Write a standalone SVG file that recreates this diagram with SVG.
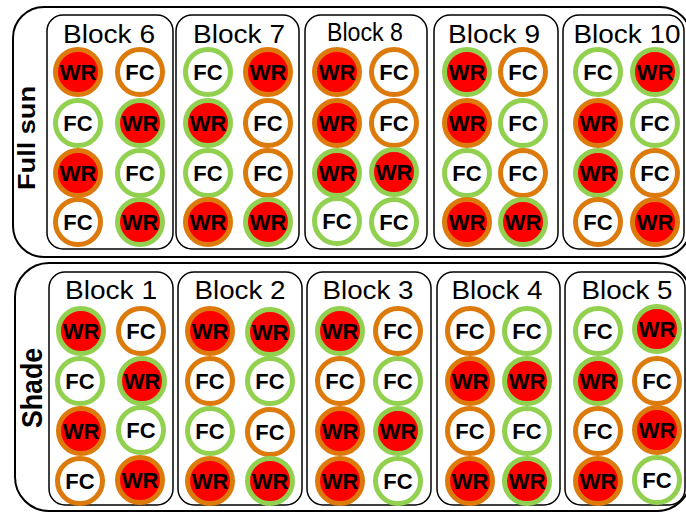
<svg xmlns="http://www.w3.org/2000/svg" width="686" height="512" viewBox="0 0 686 512">
  <style>
    .outer { fill: #ffffff; stroke: #000000; stroke-width: 2; }
    .block { fill: #ffffff; stroke: #000000; stroke-width: 1.5; }
    .title { font-family: "Liberation Sans", Arial, sans-serif; font-size: 25px; fill: #000000; text-anchor: middle; }
    .side { font-family: "Liberation Sans", Arial, sans-serif; font-weight: bold; fill: #000000; text-anchor: middle; }
    .wr { fill: #ff0000; }
    .fc { fill: #ffffff; }
    .o { stroke: #dc7a0c; stroke-width: 5; }
    .g { stroke: #92d050; stroke-width: 5; }
    .t { font-family: "Liberation Sans", Arial, sans-serif; font-weight: bold; font-size: 22px; fill: #000000; text-anchor: middle; }
  </style>

  <rect width="686" height="512" fill="#ffffff"/>

  <!-- treatment panels -->
  <g id="panel-full-sun">
    <rect class="outer" x="13" y="7" width="678" height="250" rx="31" ry="31"/>
    <text class="side" font-size="24" textLength="104" lengthAdjust="spacingAndGlyphs" transform="translate(35,138) rotate(-90)">Full sun</text>
  </g>
  <g id="panel-shade">
    <rect class="outer" x="15" y="263" width="676" height="248" rx="34" ry="34"/>
    <text class="side" font-size="29" textLength="80" lengthAdjust="spacingAndGlyphs" transform="translate(42,388) rotate(-90)">Shade</text>
  </g>

  <g id="connectors"/>

  <!-- Full sun blocks -->
  <g id="block-6">
    <rect class="block" x="47" y="15" width="126" height="234" rx="16"/>
    <text class="title" x="109" y="42.5" textLength="92" lengthAdjust="spacingAndGlyphs">Block 6</text>
    <circle class="wr o" cx="78" cy="72" r="22.5"/><text class="t" x="78" y="80">WR</text>
    <circle class="fc o" cx="140" cy="72" r="22.5"/><text class="t" x="140" y="80">FC</text>
    <circle class="fc g" cx="78" cy="123" r="22.5"/><text class="t" x="78" y="131">FC</text>
    <circle class="wr g" cx="140" cy="123" r="22.5"/><text class="t" x="140" y="131">WR</text>
    <circle class="wr o" cx="78" cy="173" r="22.5"/><text class="t" x="78" y="181">WR</text>
    <circle class="fc g" cx="140" cy="173" r="22.5"/><text class="t" x="140" y="181">FC</text>
    <circle class="fc o" cx="78" cy="222" r="22.5"/><text class="t" x="78" y="230">FC</text>
    <circle class="wr g" cx="140" cy="222" r="22.5"/><text class="t" x="140" y="230">WR</text>
  </g>
  <g id="block-7">
    <rect class="block" x="176" y="15" width="123" height="234" rx="16"/>
    <text class="title" x="239" y="42.5" textLength="92" lengthAdjust="spacingAndGlyphs">Block 7</text>
    <circle class="fc g" cx="208" cy="72" r="22.5"/><text class="t" x="208" y="80">FC</text>
    <circle class="wr o" cx="268" cy="72" r="22.5"/><text class="t" x="268" y="80">WR</text>
    <circle class="wr g" cx="208" cy="123" r="22.5"/><text class="t" x="208" y="131">WR</text>
    <circle class="fc o" cx="268" cy="123" r="22.5"/><text class="t" x="268" y="131">FC</text>
    <circle class="fc g" cx="208" cy="173" r="22.5"/><text class="t" x="208" y="181">FC</text>
    <circle class="fc o" cx="268" cy="173" r="22.5"/><text class="t" x="268" y="181">FC</text>
    <circle class="wr o" cx="208" cy="222" r="22.5"/><text class="t" x="208" y="230">WR</text>
    <circle class="wr g" cx="268" cy="222" r="22.5"/><text class="t" x="268" y="230">WR</text>
  </g>
  <g id="block-8">
    <rect class="block" x="305" y="15" width="122" height="234" rx="16"/>
    <text class="title" x="365" y="40.5" font-size="20.5" textLength="76" lengthAdjust="spacingAndGlyphs">Block 8</text>
    <circle class="wr o" cx="337" cy="72" r="22.5"/><text class="t" x="337" y="80">WR</text>
    <circle class="fc o" cx="394" cy="72" r="22.5"/><text class="t" x="394" y="80">FC</text>
    <circle class="wr o" cx="337" cy="123" r="22.5"/><text class="t" x="337" y="131">WR</text>
    <circle class="fc o" cx="394" cy="123" r="22.5"/><text class="t" x="394" y="131">FC</text>
    <circle class="wr g" cx="337" cy="173" r="22.5"/><text class="t" x="337" y="181">WR</text>
    <circle class="wr g" cx="394" cy="172" r="22.5"/><text class="t" x="394" y="180">WR</text>
    <circle class="fc g" cx="337" cy="221" r="22.5"/><text class="t" x="337" y="229">FC</text>
    <circle class="fc g" cx="394" cy="222" r="22.5"/><text class="t" x="394" y="230">FC</text>
  </g>
  <g id="block-9">
    <rect class="block" x="434" y="15" width="124" height="234" rx="16"/>
    <text class="title" x="494" y="42.5" textLength="92" lengthAdjust="spacingAndGlyphs">Block 9</text>
    <circle class="wr g" cx="467" cy="72" r="22.5"/><text class="t" x="467" y="80">WR</text>
    <circle class="fc o" cx="523" cy="72" r="22.5"/><text class="t" x="523" y="80">FC</text>
    <circle class="wr o" cx="467" cy="123" r="22.5"/><text class="t" x="467" y="131">WR</text>
    <circle class="fc g" cx="523" cy="123" r="22.5"/><text class="t" x="523" y="131">FC</text>
    <circle class="fc g" cx="467" cy="173" r="22.5"/><text class="t" x="467" y="181">FC</text>
    <circle class="fc o" cx="523" cy="173" r="22.5"/><text class="t" x="523" y="181">FC</text>
    <circle class="wr o" cx="467" cy="222" r="22.5"/><text class="t" x="467" y="230">WR</text>
    <circle class="wr g" cx="523" cy="222" r="22.5"/><text class="t" x="523" y="230">WR</text>
  </g>
  <g id="block-10">
    <rect class="block" x="563" y="15" width="121" height="234" rx="16"/>
    <text class="title" x="627" y="42.5" textLength="107" lengthAdjust="spacingAndGlyphs">Block 10</text>
    <circle class="fc g" cx="598" cy="72" r="22.5"/><text class="t" x="598" y="80">FC</text>
    <circle class="wr g" cx="655" cy="72" r="22.5"/><text class="t" x="655" y="80">WR</text>
    <circle class="wr o" cx="598" cy="123" r="22.5"/><text class="t" x="598" y="131">WR</text>
    <circle class="fc g" cx="655" cy="123" r="22.5"/><text class="t" x="655" y="131">FC</text>
    <circle class="wr g" cx="598" cy="173" r="22.5"/><text class="t" x="598" y="181">WR</text>
    <circle class="fc o" cx="655" cy="173" r="22.5"/><text class="t" x="655" y="181">FC</text>
    <circle class="fc o" cx="598" cy="222" r="22.5"/><text class="t" x="598" y="230">FC</text>
    <circle class="wr o" cx="655" cy="222" r="22.5"/><text class="t" x="655" y="230">WR</text>
  </g>

  <!-- Shade blocks -->
  <g id="block-1">
    <rect class="block" x="49" y="272" width="124" height="233" rx="16"/>
    <text class="title" x="111" y="298.5" textLength="92" lengthAdjust="spacingAndGlyphs">Block 1</text>
    <circle class="wr g" cx="81" cy="331" r="22.5"/><text class="t" x="81" y="339">WR</text>
    <circle class="fc o" cx="141" cy="331" r="22.5"/><text class="t" x="141" y="339">FC</text>
    <circle class="fc g" cx="80" cy="381" r="22.5"/><text class="t" x="80" y="389">FC</text>
    <circle class="wr g" cx="142" cy="381" r="22.5"/><text class="t" x="142" y="389">WR</text>
    <circle class="wr o" cx="81" cy="431" r="22.5"/><text class="t" x="81" y="439">WR</text>
    <circle class="fc g" cx="141" cy="430" r="22.5"/><text class="t" x="141" y="438">FC</text>
    <circle class="fc o" cx="80" cy="481" r="22.5"/><text class="t" x="80" y="489">FC</text>
    <circle class="wr o" cx="140" cy="480" r="22.5"/><text class="t" x="140" y="488">WR</text>
  </g>
  <g id="block-2">
    <rect class="block" x="178" y="272" width="124" height="233" rx="16"/>
    <text class="title" x="240" y="298.5" textLength="91" lengthAdjust="spacingAndGlyphs">Block 2</text>
    <circle class="wr o" cx="210" cy="331" r="22.5"/><text class="t" x="210" y="339">WR</text>
    <circle class="wr g" cx="270" cy="332" r="22.5"/><text class="t" x="270" y="340">WR</text>
    <circle class="fc o" cx="210" cy="381" r="22.5"/><text class="t" x="210" y="389">FC</text>
    <circle class="fc g" cx="270" cy="381" r="22.5"/><text class="t" x="270" y="389">FC</text>
    <circle class="fc g" cx="210" cy="431" r="22.5"/><text class="t" x="210" y="439">FC</text>
    <circle class="fc o" cx="270" cy="432" r="22.5"/><text class="t" x="270" y="440">FC</text>
    <circle class="wr o" cx="210" cy="481" r="22.5"/><text class="t" x="210" y="489">WR</text>
    <circle class="wr g" cx="270" cy="481" r="22.5"/><text class="t" x="270" y="489">WR</text>
  </g>
  <g id="block-3">
    <rect class="block" x="307" y="272" width="124" height="233" rx="16"/>
    <text class="title" x="368" y="298.5" textLength="91" lengthAdjust="spacingAndGlyphs">Block 3</text>
    <circle class="wr g" cx="340" cy="331" r="22.5"/><text class="t" x="340" y="339">WR</text>
    <circle class="fc o" cx="398" cy="331" r="22.5"/><text class="t" x="398" y="339">FC</text>
    <circle class="fc o" cx="340" cy="381" r="22.5"/><text class="t" x="340" y="389">FC</text>
    <circle class="fc g" cx="398" cy="381" r="22.5"/><text class="t" x="398" y="389">FC</text>
    <circle class="wr o" cx="340" cy="431" r="22.5"/><text class="t" x="340" y="439">WR</text>
    <circle class="wr g" cx="398" cy="431" r="22.5"/><text class="t" x="398" y="439">WR</text>
    <circle class="wr o" cx="340" cy="481" r="22.5"/><text class="t" x="340" y="489">WR</text>
    <circle class="fc g" cx="398" cy="481" r="22.5"/><text class="t" x="398" y="489">FC</text>
  </g>
  <g id="block-4">
    <rect class="block" x="437" y="272" width="123" height="233" rx="16"/>
    <text class="title" x="497" y="298.5" textLength="91" lengthAdjust="spacingAndGlyphs">Block 4</text>
    <circle class="fc o" cx="470" cy="331" r="22.5"/><text class="t" x="470" y="339">FC</text>
    <circle class="fc g" cx="527" cy="331" r="22.5"/><text class="t" x="527" y="339">FC</text>
    <circle class="wr o" cx="470" cy="381" r="22.5"/><text class="t" x="470" y="389">WR</text>
    <circle class="wr g" cx="527" cy="381" r="22.5"/><text class="t" x="527" y="389">WR</text>
    <circle class="fc o" cx="470" cy="431" r="22.5"/><text class="t" x="470" y="439">FC</text>
    <circle class="fc g" cx="527" cy="431" r="22.5"/><text class="t" x="527" y="439">FC</text>
    <circle class="wr o" cx="470" cy="481" r="22.5"/><text class="t" x="470" y="489">WR</text>
    <circle class="wr g" cx="527" cy="481" r="22.5"/><text class="t" x="527" y="489">WR</text>
  </g>
  <g id="block-5">
    <rect class="block" x="565" y="272" width="120" height="233" rx="16"/>
    <text class="title" x="627" y="298.5" textLength="91" lengthAdjust="spacingAndGlyphs">Block 5</text>
    <circle class="fc g" cx="598" cy="331" r="22.5"/><text class="t" x="598" y="339">FC</text>
    <circle class="wr g" cx="657" cy="329" r="22.5"/><text class="t" x="657" y="337">WR</text>
    <circle class="wr g" cx="598" cy="381" r="22.5"/><text class="t" x="598" y="389">WR</text>
    <circle class="fc o" cx="657" cy="381" r="22.5"/><text class="t" x="657" y="389">FC</text>
    <circle class="fc o" cx="598" cy="431" r="22.5"/><text class="t" x="598" y="439">FC</text>
    <circle class="wr o" cx="657" cy="430" r="22.5"/><text class="t" x="657" y="438">WR</text>
    <circle class="wr o" cx="598" cy="481" r="22.5"/><text class="t" x="598" y="489">WR</text>
    <circle class="fc g" cx="657" cy="480" r="22.5"/><text class="t" x="657" y="488">FC</text>
  </g>
</svg>
